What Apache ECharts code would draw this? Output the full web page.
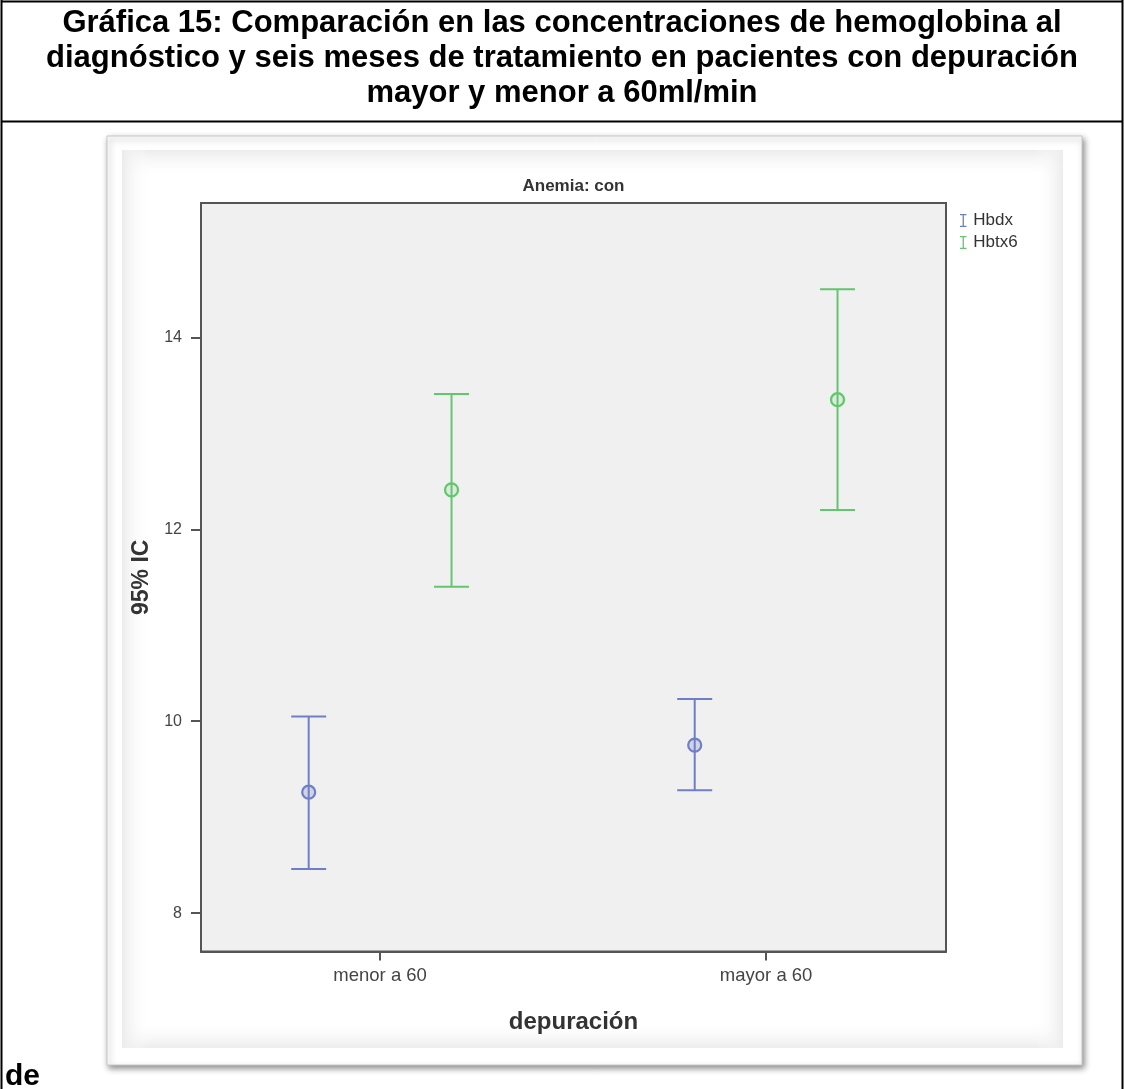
<!DOCTYPE html>
<html>
<head>
<meta charset="utf-8">
<script src="https://cdn.jsdelivr.net/npm/echarts@6/dist/echarts.min.js"></script>
<style>
  html, body { margin: 0; padding: 0; background: #ffffff; }
  #chart { width: 1124px; height: 1089px; }
</style>
</head>
<body>
<div id="chart"></div>
<script>
// Categories of renal clearance
const categories = ['menor a 60', 'mayor a 60'];
const seriesNames = ['Hbdx', 'Hbtx6'];

// Hemoglobin at diagnosis: mean and 95% CI bounds
const hbdxMean = [9.26, 9.75];
const hbdxLow  = [8.46, 9.28];
const hbdxHigh = [10.05, 10.23];

// Hemoglobin after six months of treatment: mean and 95% CI bounds
const hbtx6Mean = [12.41, 13.35];
const hbtx6Low  = [11.40, 12.20];
const hbtx6High = [13.41, 14.50];

const yTicks = [8, 10, 12, 14];

const titleLines = [
  'Gráfica 15: Comparación en las concentraciones de hemoglobina al',
  'diagnóstico y seis meses de tratamiento en pacientes con depuración',
  'mayor y menor a 60ml/min'
];

const colors = { Hbdx: '#6f7fc6', Hbtx6: '#63c66f' };
const fills  = { Hbdx: 'rgba(111,127,198,0.25)', Hbtx6: 'rgba(99,198,111,0.15)' };
const dodge = 0.185;
const FONT = '"Liberation Sans", Arial, sans-serif';

function buildData(mean, low, high, offset) {
  return categories.map((c, i) => [i + 1 + offset, low[i], high[i], mean[i]]);
}

function renderErrorBar(params, api) {
  const x = api.value(0);
  const pLo = api.coord([x, api.value(1)]);
  const pHi = api.coord([x, api.value(2)]);
  const pM = api.coord([x, api.value(3)]);
  const half = 17.5;
  const name = seriesNames[params.seriesIndex];
  const stroke = colors[name];
  const st = { stroke: stroke, lineWidth: 2, fill: null };
  return {
    type: 'group',
    children: [
      { type: 'line', shape: { x1: pLo[0], y1: pLo[1], x2: pHi[0], y2: pHi[1] }, style: st },
      { type: 'line', shape: { x1: pHi[0] - half, y1: pHi[1], x2: pHi[0] + half, y2: pHi[1] }, style: st },
      { type: 'line', shape: { x1: pLo[0] - half, y1: pLo[1], x2: pLo[0] + half, y2: pLo[1] }, style: st },
      { type: 'circle', shape: { cx: pM[0], cy: pM[1], r: 6.5 },
        style: { stroke: stroke, lineWidth: 2.2, fill: fills[name] } }
    ]
  };
}

const iBeam = 'path://M0,0h10v2h-4v16h4v2h-10v-2h4v-16h-4z';

// Soft grey edge strips of the chart panel
function edgeStrip(x, y, w, h, gx, gy, gx2, gy2) {
  return {
    type: 'rect', silent: true, z: -9,
    shape: { x: x, y: y, width: w, height: h },
    style: {
      fill: new echarts.graphic.LinearGradient(gx, gy, gx2, gy2, [
        { offset: 0, color: '#ececec' },
        { offset: 1, color: 'rgba(255,255,255,0)' }
      ])
    }
  };
}

const titleTexts = titleLines.map((t, i) => ({
  type: 'text', silent: true, x: 562, y: 23 + i * 35,
  style: { text: t, fontFamily: FONT, fontSize: 31, fontWeight: 'bold', fill: '#000',
           align: 'center', verticalAlign: 'middle' }
}));

const chart = echarts.init(document.getElementById('chart'), null, { renderer: 'canvas' });

chart.setOption({
  backgroundColor: '#ffffff',
  animation: false,
  legend: {
    orient: 'vertical',
    left: 955,
    top: 207,
    itemGap: 5,
    itemWidth: 8,
    itemHeight: 13,
    data: seriesNames.map(n => ({ name: n, icon: iBeam, itemStyle: { color: colors[n] } })),
    textStyle: { fontFamily: FONT, fontSize: 17, color: '#333', padding: [0, 0, 0, 1] }
  },
  grid: {
    left: 201, top: 203, right: 178, bottom: 137.5,
    show: true,
    backgroundColor: '#f0f0f0',
    borderColor: '#555',
    borderWidth: 2
  },
  xAxis: {
    type: 'value',
    min: 0.536,
    max: 2.466,
    name: 'depuración',
    nameLocation: 'middle',
    nameGap: 59,
    nameTextStyle: { fontFamily: FONT, fontSize: 24, fontWeight: 'bold', color: '#333' },
    axisLine: { show: true, lineStyle: { color: '#555', width: 2 } },
    axisTick: { show: true, customValues: [1, 2], length: 9, lineStyle: { color: '#555', width: 2 } },
    axisLabel: {
      customValues: [1, 2],
      formatter: v => categories[Math.round(v) - 1] || '',
      fontFamily: FONT, fontSize: 18.5, color: '#444', margin: 15
    },
    splitLine: { show: false }
  },
  yAxis: {
    type: 'value',
    min: 7.6,
    max: 15.4,
    name: '95% IC',
    nameLocation: 'middle',
    nameRotate: 90,
    nameGap: 46,
    nameTextStyle: { fontFamily: FONT, fontSize: 23, fontWeight: 'bold', color: '#333' },
    axisLine: { show: true, lineStyle: { color: '#555', width: 2 } },
    axisTick: { show: true, customValues: yTicks, length: 10, lineStyle: { color: '#555', width: 2 } },
    axisLabel: { customValues: yTicks, fontFamily: FONT, fontSize: 16, color: '#444', margin: 19 },
    splitLine: { show: false }
  },
  graphic: [
    // page frame and title box
    { type: 'line', silent: true, shape: { x1: 1, y1: 1.5, x2: 1123, y2: 1.5 }, style: { stroke: '#000', lineWidth: 2 } },
    { type: 'line', silent: true, shape: { x1: 1, y1: 121.5, x2: 1123, y2: 121.5 }, style: { stroke: '#000', lineWidth: 2 } },
    { type: 'line', silent: true, shape: { x1: 1.5, y1: 0, x2: 1.5, y2: 1089 }, style: { stroke: '#000', lineWidth: 2 } },
    { type: 'line', silent: true, shape: { x1: 1122.5, y1: 0, x2: 1122.5, y2: 1089 }, style: { stroke: '#000', lineWidth: 2 } },
    ...titleTexts,
    { type: 'text', silent: true, left: 5, top: 1062,
      style: { text: 'de', fontFamily: FONT, fontSize: 30, fontWeight: 'bold', fill: '#000' } },
    // chart picture box with shadow
    { type: 'rect', silent: true, z: -10,
      shape: { x: 107, y: 136, width: 975, height: 929 },
      style: { fill: '#fff', stroke: '#c8c8c8', lineWidth: 1,
               shadowBlur: 6, shadowOffsetX: 2, shadowOffsetY: 3, shadowColor: 'rgba(0,0,0,0.45)' } },
    edgeStrip(122, 150, 941, 28, 0, 0, 0, 1),
    edgeStrip(122, 1020, 941, 28, 0, 1, 0, 0),
    edgeStrip(122, 150, 28, 898, 0, 0, 1, 0),
    edgeStrip(1035, 150, 28, 898, 1, 0, 0, 0),
    // panel heading
    { type: 'text', silent: true, x: 573.5, y: 186,
      style: { text: 'Anemia: con', fontFamily: FONT, fontSize: 17, fontWeight: 'bold', fill: '#333',
               align: 'center', verticalAlign: 'middle' } }
  ],
  series: [
    {
      name: 'Hbdx', type: 'custom', renderItem: renderErrorBar,
      itemStyle: { color: colors.Hbdx },
      encode: { x: 0, y: [1, 2, 3] },
      data: buildData(hbdxMean, hbdxLow, hbdxHigh, -dodge)
    },
    {
      name: 'Hbtx6', type: 'custom', renderItem: renderErrorBar,
      itemStyle: { color: colors.Hbtx6 },
      encode: { x: 0, y: [1, 2, 3] },
      data: buildData(hbtx6Mean, hbtx6Low, hbtx6High, dodge)
    }
  ]
});
</script>
</body>
</html>
